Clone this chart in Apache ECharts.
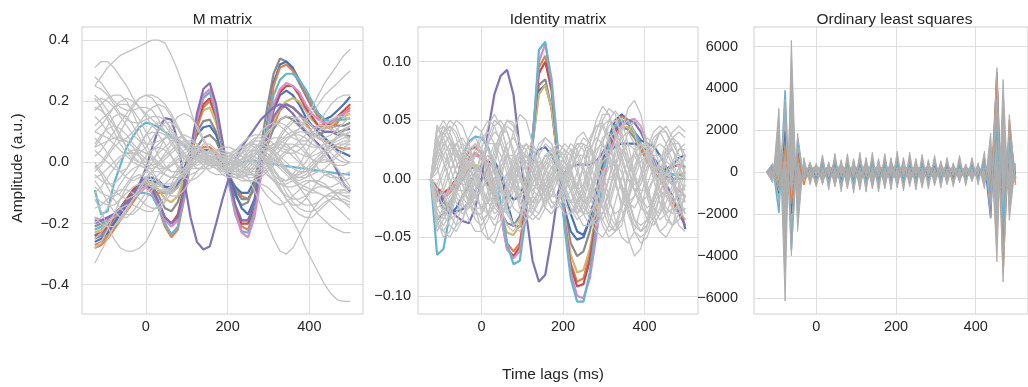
<!DOCTYPE html>
<html><head><meta charset="utf-8">
<script src="https://cdn.jsdelivr.net/npm/echarts@6.0.0/dist/echarts.min.js"></script>
<style>html,body{margin:0;padding:0;background:#fff}#c{width:1028px;height:387px}</style>
</head><body><div id="c"></div>
<script>
// ---- shared axis data ----
const lags = [-125,-109.375,-93.75,-78.125,-62.5,-46.875,-31.25,-15.625,0,15.625,31.25,46.875,62.5,78.125,93.75,109.375,125,140.625,156.25,171.875,187.5,203.125,218.75,234.375,250,265.625,281.25,296.875,312.5,328.125,343.75,359.375,375,390.625,406.25,421.875,437.5,453.125,468.75,484.375,500];
const xTicks = [0,200,400];
const mTicks = [-0.4,-0.2,0,0.2,0.4];
const iTicks = [-0.1,-0.05,0,0.05,0.1];
const oTicks = [-6000,-4000,-2000,0,2000,4000,6000];
const titles = ['M matrix','Identity matrix','Ordinary least squares'];

// ---- M matrix: highlighted channels ----
const mCyanB = [-0.22,-0.21,-0.19,-0.17,-0.15,-0.13,-0.11,-0.10,-0.10,-0.11,-0.15,-0.20,-0.235,-0.21,-0.11,0.02,0.14,0.21,0.23,0.16,0.05,-0.07,-0.17,-0.225,-0.23,-0.16,-0.03,0.11,0.22,0.27,0.29,0.29,0.27,0.24,0.20,0.16,0.14,0.135,0.14,0.14,0.145];
const mOrangeA = [-0.28,-0.27,-0.25,-0.22,-0.19,-0.16,-0.13,-0.10,-0.08,-0.10,-0.15,-0.21,-0.245,-0.22,-0.12,0.00,0.11,0.18,0.20,0.15,0.05,-0.06,-0.15,-0.21,-0.22,-0.16,-0.03,0.12,0.25,0.31,0.32,0.30,0.27,0.23,0.19,0.15,0.12,0.11,0.13,0.16,0.18];
const mRed = [-0.24,-0.23,-0.21,-0.18,-0.15,-0.12,-0.09,-0.07,-0.07,-0.09,-0.13,-0.18,-0.20,-0.17,-0.08,0.03,0.13,0.19,0.21,0.15,0.05,-0.06,-0.15,-0.20,-0.20,-0.15,-0.04,0.08,0.18,0.23,0.25,0.25,0.22,0.18,0.15,0.12,0.12,0.13,0.15,0.17,0.19];
const mPink = [-0.18,-0.19,-0.19,-0.18,-0.16,-0.13,-0.11,-0.09,-0.08,-0.10,-0.14,-0.19,-0.21,-0.19,-0.10,0.03,0.14,0.22,0.24,0.17,0.06,-0.06,-0.16,-0.23,-0.245,-0.18,-0.05,0.08,0.19,0.24,0.26,0.25,0.23,0.19,0.16,0.14,0.13,0.13,0.15,0.16,0.17];
const mYellow = [-0.23,-0.22,-0.20,-0.17,-0.15,-0.12,-0.09,-0.07,-0.06,-0.07,-0.09,-0.12,-0.13,-0.11,-0.05,0.04,0.12,0.17,0.18,0.13,0.04,-0.06,-0.14,-0.19,-0.19,-0.14,-0.04,0.06,0.14,0.18,0.20,0.21,0.20,0.17,0.14,0.12,0.11,0.12,0.14,0.15,0.16];
const mGreyA = [-0.25,-0.24,-0.22,-0.19,-0.16,-0.13,-0.10,-0.08,-0.07,-0.08,-0.11,-0.15,-0.16,-0.13,-0.06,0.03,0.10,0.135,0.14,0.10,0.03,-0.05,-0.11,-0.14,-0.13,-0.07,0.05,0.18,0.29,0.34,0.33,0.30,0.26,0.22,0.18,0.15,0.13,0.12,0.12,0.12,0.13];
const mGreyB = [-0.21,-0.20,-0.19,-0.17,-0.15,-0.13,-0.11,-0.09,-0.08,-0.08,-0.09,-0.10,-0.10,-0.08,-0.04,0.01,0.05,0.08,0.09,0.07,0.02,-0.04,-0.09,-0.12,-0.12,-0.08,-0.01,0.06,0.11,0.14,0.15,0.14,0.12,0.10,0.09,0.09,0.10,0.10,0.09,0.09,0.085];
const mBlueA = [-0.26,-0.25,-0.23,-0.20,-0.17,-0.14,-0.11,-0.08,-0.06,-0.06,-0.07,-0.08,-0.08,-0.06,-0.02,0.04,0.09,0.115,0.12,0.09,0.03,-0.04,-0.10,-0.15,-0.17,-0.12,-0.01,0.13,0.26,0.32,0.33,0.31,0.27,0.23,0.19,0.16,0.14,0.15,0.17,0.19,0.215];
const mBlueB = [-0.24,-0.23,-0.21,-0.18,-0.15,-0.12,-0.09,-0.07,-0.05,-0.05,-0.06,-0.08,-0.09,-0.07,-0.04,0.00,0.03,0.04,0.04,0.02,-0.01,-0.05,-0.08,-0.10,-0.10,-0.06,0.01,0.09,0.17,0.22,0.235,0.22,0.19,0.15,0.12,0.10,0.08,0.06,0.04,0.03,0.02];
const mPurpleA = [-0.20,-0.19,-0.18,-0.17,-0.15,-0.13,-0.10,-0.08,-0.07,-0.09,-0.13,-0.18,-0.20,-0.18,-0.09,0.04,0.16,0.24,0.26,0.19,0.07,-0.05,-0.14,-0.19,-0.19,-0.13,-0.02,0.08,0.15,0.18,0.19,0.18,0.16,0.14,0.12,0.11,0.10,0.10,0.10,0.105,0.11];
const mPurpleB = [-0.19,-0.19,-0.18,-0.17,-0.16,-0.14,-0.11,-0.07,-0.02,0.05,0.11,0.145,0.14,0.07,-0.06,-0.18,-0.26,-0.285,-0.275,-0.20,-0.12,-0.05,0.01,0.05,0.08,0.11,0.14,0.16,0.18,0.19,0.18,0.16,0.13,0.10,0.08,0.06,0.04,0.01,-0.03,-0.07,-0.095];
const mCyanA = [-0.09,-0.17,-0.16,-0.07,-0.01,0.05,0.085,0.115,0.13,0.125,0.115,0.10,0.085,0.07,0.055,0.04,0.03,0.02,0.01,0.00,0.00,-0.005,0.00,0.00,0.005,0.005,0.003,0.00,-0.005,-0.01,-0.012,-0.015,-0.018,-0.02,-0.024,-0.027,-0.03,-0.033,-0.036,-0.038,-0.04];
const mOrangeB = [-0.27,-0.26,-0.24,-0.21,-0.17,-0.14,-0.11,-0.09,-0.08,-0.09,-0.10,-0.10,-0.09,-0.07,-0.04,0.00,0.03,0.05,0.05,0.03,0.00,-0.04,-0.08,-0.11,-0.12,-0.09,-0.03,0.05,0.12,0.17,0.19,0.18,0.16,0.13,0.10,0.08,0.07,0.06,0.05,0.045,0.045];

// ---- M matrix: other channels (grey) ----
const mG1 = [0.25,0.28,0.31,0.33,0.35,0.36,0.37,0.38,0.39,0.40,0.40,0.39,0.35,0.30,0.24,0.17,0.11,0.07,0.04,0.02,0.01,0.0,-0.01,-0.01,0.0,0.02,0.04,0.05,0.06,0.06,0.05,0.04,0.03,0.02,0.02,0.03,0.04,0.05,0.06,0.06,0.07];
const mG2 = [0.31,0.33,0.33,0.31,0.28,0.25,0.21,0.18,0.16,0.14,0.12,0.10,0.07,0.04,0.02,0.01,0.01,0.02,0.03,0.03,0.02,0.0,-0.02,-0.04,-0.05,-0.05,-0.04,-0.02,0.0,0.02,0.04,0.05,0.06,0.06,0.05,0.05,0.06,0.07,0.08,0.09,0.10];
const mG3 = [-0.33,-0.29,-0.25,-0.21,-0.18,-0.15,-0.12,-0.10,-0.08,-0.06,-0.04,-0.02,0.0,0.02,0.04,0.05,0.05,0.04,0.03,0.02,0.02,0.03,0.04,0.05,0.06,0.06,0.05,0.03,0.01,-0.01,-0.03,-0.05,-0.07,-0.08,-0.09,-0.10,-0.11,-0.11,-0.12,-0.12,-0.13];
const mG4 = [0.05,0.06,0.07,0.08,0.08,0.07,0.05,0.03,0.01,-0.01,-0.02,-0.02,-0.01,0.0,0.02,0.03,0.03,0.02,0.01,0.0,-0.02,-0.04,-0.05,-0.06,-0.06,-0.06,-0.07,-0.08,-0.10,-0.12,-0.15,-0.19,-0.23,-0.28,-0.32,-0.36,-0.40,-0.43,-0.45,-0.455,-0.455];
const mG5 = [0.10,0.09,0.08,0.06,0.04,0.02,0.0,-0.01,-0.02,-0.02,-0.01,0.01,0.03,0.05,0.06,0.06,0.05,0.04,0.03,0.03,0.02,0.01,0.0,-0.02,-0.05,-0.09,-0.14,-0.20,-0.25,-0.29,-0.30,-0.28,-0.24,-0.20,-0.16,-0.13,-0.11,-0.10,-0.10,-0.11,-0.12];
const mG6 = [-0.05,-0.04,-0.02,0.0,0.02,0.03,0.04,0.04,0.03,0.02,0.0,-0.02,-0.03,-0.03,-0.02,0.0,0.02,0.03,0.03,0.02,0.0,-0.02,-0.03,-0.03,-0.01,0.02,0.05,0.07,0.08,0.08,0.08,0.09,0.11,0.14,0.18,0.22,0.26,0.29,0.32,0.35,0.37];
const mG7 = [0.20,0.21,0.20,0.18,0.15,0.12,0.09,0.07,0.06,0.06,0.07,0.08,0.08,0.06,0.03,0.0,-0.02,-0.02,-0.01,0.0,0.01,0.01,0.0,-0.01,-0.02,-0.02,-0.01,0.01,0.04,0.07,0.09,0.10,0.11,0.13,0.16,0.19,0.22,0.24,0.26,0.28,0.30];
const mG8 = [-0.12,-0.16,-0.21,-0.25,-0.28,-0.29,-0.29,-0.28,-0.26,-0.22,-0.17,-0.12,-0.08,-0.05,-0.03,-0.02,-0.02,-0.02,-0.02,-0.01,0.0,0.01,0.02,0.02,0.01,0.0,-0.02,-0.04,-0.06,-0.07,-0.08,-0.08,-0.07,-0.06,-0.06,-0.07,-0.08,-0.09,-0.10,-0.10,-0.10];
const mG9 = [0.15,0.13,0.10,0.08,0.07,0.08,0.10,0.13,0.16,0.18,0.19,0.18,0.15,0.11,0.07,0.04,0.02,0.01,0.0,-0.01,-0.01,0.0,0.02,0.04,0.06,0.07,0.07,0.06,0.04,0.02,0.0,-0.02,-0.03,-0.03,-0.02,0.0,0.02,0.04,0.05,0.06,0.06];
const mG10 = [-0.02,0.0,0.03,0.06,0.10,0.14,0.18,0.21,0.22,0.21,0.18,0.14,0.10,0.07,0.05,0.04,0.04,0.03,0.02,0.0,-0.02,-0.04,-0.05,-0.05,-0.04,-0.02,0.01,0.04,0.06,0.07,0.06,0.04,0.01,-0.02,-0.05,-0.07,-0.08,-0.08,-0.07,-0.06,-0.05];
const mG11 = [0.08,0.06,0.03,0.0,-0.03,-0.05,-0.06,-0.05,-0.03,0.0,0.04,0.08,0.12,0.15,0.16,0.15,0.12,0.08,0.04,0.01,-0.01,-0.02,-0.01,0.01,0.04,0.07,0.10,0.12,0.13,0.12,0.10,0.08,0.07,0.07,0.08,0.10,0.12,0.14,0.15,0.15,0.14];
const mG12 = [-0.15,-0.14,-0.12,-0.10,-0.09,-0.09,-0.10,-0.12,-0.14,-0.15,-0.15,-0.13,-0.10,-0.06,-0.03,-0.01,0.0,0.0,-0.01,-0.02,-0.03,-0.03,-0.02,0.0,0.02,0.03,0.03,0.01,-0.02,-0.05,-0.08,-0.11,-0.13,-0.14,-0.14,-0.13,-0.11,-0.10,-0.09,-0.09,-0.10];
const mG13 = [0.22,0.20,0.17,0.13,0.09,0.05,0.02,0.0,-0.01,-0.01,0.0,0.02,0.04,0.06,0.07,0.07,0.06,0.04,0.02,0.0,-0.02,-0.03,-0.03,-0.02,0.0,0.03,0.06,0.09,0.12,0.14,0.15,0.15,0.14,0.12,0.10,0.08,0.07,0.07,0.08,0.09,0.10];
const mG14 = [0.0,-0.03,-0.06,-0.09,-0.11,-0.12,-0.11,-0.09,-0.06,-0.03,0.0,0.03,0.06,0.08,0.09,0.08,0.06,0.03,0.0,-0.02,-0.03,-0.02,0.0,0.03,0.05,0.06,0.05,0.02,-0.02,-0.06,-0.10,-0.13,-0.15,-0.16,-0.16,-0.15,-0.13,-0.12,-0.12,-0.13,-0.14];
const mG15 = [0.12,0.14,0.16,0.18,0.19,0.19,0.17,0.14,0.10,0.06,0.02,-0.01,-0.03,-0.03,-0.02,0.0,0.02,0.03,0.03,0.02,0.01,0.0,0.0,0.01,0.03,0.05,0.06,0.05,0.03,0.0,-0.03,-0.05,-0.06,-0.05,-0.03,0.0,0.03,0.06,0.09,0.11,0.12];
const mG16 = [-0.08,-0.10,-0.11,-0.11,-0.10,-0.07,-0.04,-0.01,0.02,0.04,0.05,0.04,0.02,-0.01,-0.03,-0.04,-0.03,-0.01,0.01,0.02,0.02,0.01,-0.01,-0.03,-0.04,-0.04,-0.02,0.01,0.05,0.09,0.12,0.14,0.15,0.14,0.12,0.09,0.06,0.03,0.01,0.0,0.0];
const mG17 = [0.05,0.08,0.12,0.15,0.16,0.15,0.12,0.08,0.04,0.01,-0.02,-0.04,-0.05,-0.04,-0.02,0.01,0.04,0.06,0.06,0.04,0.01,-0.02,-0.04,-0.05,-0.04,-0.02,0.0,0.01,0.01,0.0,-0.02,-0.04,-0.05,-0.05,-0.04,-0.03,-0.03,-0.04,-0.06,-0.08,-0.09];
const mG18 = [-0.20,-0.18,-0.15,-0.11,-0.07,-0.04,-0.02,-0.01,-0.02,-0.04,-0.07,-0.09,-0.10,-0.08,-0.05,-0.02,0.01,0.03,0.04,0.04,0.03,0.02,0.01,0.01,0.02,0.04,0.07,0.10,0.12,0.13,0.12,0.10,0.07,0.04,0.01,-0.02,-0.04,-0.05,-0.05,-0.04,-0.03];
const mG19 = [0.18,0.17,0.15,0.12,0.08,0.05,0.03,0.03,0.05,0.08,0.11,0.13,0.13,0.11,0.08,0.05,0.03,0.02,0.02,0.02,0.01,-0.01,-0.03,-0.05,-0.06,-0.06,-0.05,-0.03,-0.01,0.01,0.03,0.05,0.07,0.09,0.11,0.12,0.12,0.11,0.10,0.09,0.08];
const mG20 = [-0.04,-0.06,-0.07,-0.07,-0.05,-0.02,0.02,0.06,0.09,0.10,0.09,0.06,0.02,-0.02,-0.05,-0.06,-0.05,-0.03,0.0,0.02,0.03,0.03,0.02,0.0,-0.02,-0.05,-0.08,-0.11,-0.13,-0.14,-0.13,-0.11,-0.09,-0.07,-0.06,-0.06,-0.07,-0.09,-0.11,-0.13,-0.15];
const mG21 = [0.25,0.24,0.22,0.19,0.16,0.14,0.13,0.13,0.14,0.15,0.15,0.14,0.11,0.08,0.05,0.03,0.02,0.02,0.03,0.04,0.04,0.03,0.01,-0.01,-0.03,-0.03,-0.02,0.0,0.03,0.06,0.08,0.09,0.09,0.08,0.06,0.05,0.05,0.06,0.08,0.10,0.12];
const mG22 = [-0.10,-0.08,-0.05,-0.02,0.01,0.03,0.03,0.02,0.0,-0.03,-0.06,-0.09,-0.11,-0.11,-0.09,-0.06,-0.03,-0.01,0.0,0.0,0.0,0.01,0.03,0.05,0.06,0.05,0.03,0.0,-0.04,-0.08,-0.12,-0.15,-0.17,-0.18,-0.18,-0.16,-0.14,-0.12,-0.10,-0.09,-0.08];
const mG23 = [0.02,0.04,0.07,0.10,0.13,0.16,0.19,0.21,0.22,0.22,0.21,0.19,0.16,0.12,0.08,0.05,0.02,0.0,-0.01,-0.01,0.0,0.02,0.04,0.06,0.08,0.09,0.09,0.08,0.06,0.04,0.03,0.03,0.04,0.06,0.09,0.12,0.16,0.19,0.21,0.22,0.22];
const mG24 = [-0.06,-0.09,-0.13,-0.16,-0.18,-0.18,-0.16,-0.13,-0.10,-0.08,-0.07,-0.07,-0.07,-0.06,-0.04,-0.02,0.0,0.01,0.01,0.0,-0.01,-0.02,-0.02,-0.01,0.01,0.03,0.04,0.04,0.03,0.01,-0.02,-0.05,-0.08,-0.11,-0.14,-0.17,-0.19,-0.21,-0.22,-0.23,-0.23];
const mG25 = [0.10,0.12,0.15,0.18,0.20,0.21,0.20,0.18,0.15,0.12,0.10,0.09,0.08,0.07,0.05,0.03,0.01,0.0,0.0,0.01,0.02,0.02,0.01,-0.01,-0.03,-0.04,-0.04,-0.02,0.01,0.04,0.07,0.09,0.10,0.10,0.09,0.08,0.08,0.09,0.11,0.13,0.15];
const mG26 = [-0.25,-0.23,-0.20,-0.17,-0.15,-0.14,-0.14,-0.15,-0.16,-0.16,-0.14,-0.11,-0.07,-0.03,0.0,0.02,0.03,0.02,0.0,-0.02,-0.04,-0.05,-0.05,-0.04,-0.02,0.0,0.01,0.01,0.0,-0.02,-0.04,-0.06,-0.08,-0.09,-0.10,-0.10,-0.11,-0.13,-0.15,-0.17,-0.19];
const mG27 = [0.04,0.02,0.0,-0.02,-0.03,-0.02,0.01,0.05,0.09,0.12,0.13,0.12,0.09,0.05,0.02,0.0,-0.01,0.0,0.02,0.04,0.05,0.05,0.04,0.02,0.0,-0.01,-0.01,0.01,0.04,0.08,0.11,0.13,0.13,0.11,0.08,0.05,0.02,0.0,-0.01,-0.01,0.0];
const mG28 = [-0.18,-0.20,-0.21,-0.21,-0.19,-0.16,-0.12,-0.08,-0.05,-0.03,-0.03,-0.04,-0.05,-0.05,-0.03,-0.01,0.01,0.02,0.02,0.01,-0.01,-0.03,-0.04,-0.04,-0.03,-0.01,0.02,0.04,0.05,0.05,0.04,0.02,0.0,-0.02,-0.03,-0.03,-0.02,0.0,0.02,0.04,0.05];
const mG29 = [0.28,0.26,0.23,0.20,0.18,0.17,0.17,0.18,0.18,0.17,0.14,0.10,0.06,0.03,0.01,0.0,0.0,0.01,0.02,0.02,0.01,0.0,-0.02,-0.03,-0.04,-0.04,-0.03,-0.01,0.02,0.04,0.06,0.06,0.05,0.03,0.01,0.0,0.0,0.01,0.03,0.05,0.06];
const mG30 = [-0.01,-0.04,-0.08,-0.12,-0.15,-0.17,-0.17,-0.15,-0.12,-0.09,-0.06,-0.03,-0.01,0.01,0.02,0.02,0.01,-0.01,-0.03,-0.04,-0.04,-0.03,-0.01,0.01,0.02,0.02,0.0,-0.03,-0.06,-0.09,-0.11,-0.12,-0.12,-0.11,-0.09,-0.08,-0.08,-0.09,-0.10,-0.11,-0.11];
const mG31 = [0.17,0.19,0.21,0.22,0.22,0.20,0.16,0.11,0.06,0.02,-0.01,-0.02,-0.01,0.01,0.03,0.04,0.04,0.03,0.01,-0.01,-0.02,-0.02,-0.01,0.01,0.03,0.04,0.03,0.0,-0.03,-0.05,-0.06,-0.05,-0.03,0.0,0.03,0.05,0.06,0.05,0.03,0.01,0.0];
const mG32 = [-0.28,-0.26,-0.22,-0.17,-0.12,-0.08,-0.05,-0.04,-0.05,-0.07,-0.08,-0.07,-0.05,-0.02,0.01,0.03,0.04,0.03,0.01,-0.01,-0.02,-0.02,0.0,0.03,0.06,0.08,0.08,0.06,0.03,0.0,-0.03,-0.05,-0.05,-0.04,-0.02,0.0,0.01,0.0,-0.02,-0.05,-0.08];
const mG33 = [0.06,0.09,0.11,0.12,0.11,0.09,0.06,0.04,0.03,0.04,0.06,0.08,0.09,0.08,0.06,0.04,0.02,0.01,0.0,0.0,0.01,0.02,0.03,0.03,0.02,0.0,-0.02,-0.04,-0.06,-0.07,-0.07,-0.06,-0.04,-0.02,0.0,0.02,0.04,0.06,0.07,0.08,0.08];
const mG34 = [-0.11,-0.13,-0.14,-0.14,-0.12,-0.10,-0.08,-0.07,-0.07,-0.08,-0.09,-0.09,-0.08,-0.06,-0.03,0.0,0.02,0.03,0.02,0.0,-0.02,-0.04,-0.04,-0.03,-0.01,0.01,0.02,0.02,0.01,-0.01,-0.03,-0.04,-0.04,-0.03,-0.01,0.01,0.03,0.05,0.06,0.07,0.07];
const mG35 = [0.21,0.18,0.14,0.10,0.06,0.03,0.01,0.0,0.0,0.01,0.03,0.05,0.07,0.08,0.08,0.06,0.04,0.01,-0.01,-0.02,-0.02,-0.01,0.01,0.03,0.04,0.04,0.02,-0.01,-0.04,-0.06,-0.06,-0.04,-0.01,0.03,0.07,0.10,0.12,0.12,0.11,0.09,0.07];
const mG36 = [-0.03,-0.01,0.02,0.05,0.07,0.07,0.05,0.02,-0.02,-0.06,-0.09,-0.10,-0.09,-0.06,-0.03,0.0,0.02,0.02,0.01,-0.01,-0.03,-0.03,-0.02,0.0,0.02,0.03,0.02,-0.01,-0.05,-0.09,-0.12,-0.14,-0.14,-0.12,-0.09,-0.06,-0.04,-0.04,-0.05,-0.07,-0.09];

// ---- Identity matrix: highlighted channels ----
const iCyan = [0,-0.065,-0.060,-0.030,-0.005,0.020,0.032,0.036,0.035,0.027,0.010,-0.020,-0.055,-0.073,-0.070,-0.030,0.030,0.110,0.117,0.080,0.020,-0.040,-0.085,-0.105,-0.105,-0.080,-0.040,0.000,0.030,0.045,0.050,0.048,0.040,0.030,0.020,0.012,0.008,0.006,0.004,0.003,0.002];
const iPink = [0,-0.010,-0.015,-0.010,-0.005,0.005,0.015,0.020,0.018,0.010,-0.005,-0.030,-0.060,-0.068,-0.062,-0.025,0.035,0.100,0.115,0.085,0.025,-0.035,-0.080,-0.100,-0.102,-0.085,-0.050,-0.010,0.020,0.035,0.045,0.050,0.051,0.045,0.030,0.015,0.005,0.000,-0.005,-0.010,-0.015];
const iRed = [0,-0.008,-0.012,-0.008,0.000,0.012,0.024,0.027,0.022,0.012,-0.005,-0.030,-0.060,-0.066,-0.058,-0.020,0.035,0.090,0.100,0.075,0.020,-0.035,-0.075,-0.092,-0.090,-0.070,-0.035,0.000,0.025,0.040,0.048,0.047,0.040,0.030,0.020,0.012,0.008,0.008,0.010,0.012,0.010];
const iOrange = [0,-0.012,-0.016,-0.012,-0.004,0.008,0.018,0.022,0.018,0.008,-0.008,-0.030,-0.055,-0.062,-0.055,-0.020,0.035,0.095,0.105,0.078,0.020,-0.035,-0.072,-0.088,-0.085,-0.065,-0.030,0.005,0.030,0.045,0.053,0.050,0.040,0.028,0.016,0.006,0.000,-0.010,-0.020,-0.030,-0.035];
const iYellow = [0,-0.010,-0.012,-0.010,-0.004,0.004,0.010,0.012,0.008,0.000,-0.012,-0.030,-0.046,-0.048,-0.040,-0.010,0.030,0.072,0.080,0.060,0.015,-0.030,-0.065,-0.080,-0.078,-0.060,-0.030,0.000,0.025,0.038,0.045,0.044,0.038,0.028,0.018,0.010,0.006,0.004,0.003,0.004,0.005];
const iGrey = [0,-0.035,-0.030,-0.020,-0.010,0.000,0.008,0.010,0.005,-0.005,-0.015,-0.028,-0.038,-0.040,-0.032,-0.005,0.035,0.080,0.085,0.060,0.015,-0.025,-0.055,-0.066,-0.062,-0.045,-0.020,0.005,0.025,0.038,0.044,0.042,0.035,0.025,0.015,0.008,0.005,0.002,0.000,0.000,0.000];
const iBlue = [0,-0.012,-0.020,-0.026,-0.028,-0.026,-0.020,-0.010,0.000,0.010,0.015,0.005,-0.020,-0.040,-0.041,-0.015,0.030,0.075,0.080,0.060,0.015,-0.025,-0.045,-0.052,-0.050,-0.035,-0.010,0.015,0.035,0.050,0.055,0.050,0.040,0.033,0.030,0.028,0.020,0.010,0.000,-0.020,-0.043];
const iBlue2 = [0,-0.015,-0.025,-0.030,-0.025,-0.015,-0.005,0.005,0.012,0.015,0.012,0.003,-0.010,-0.018,-0.015,0.000,0.015,0.025,0.027,0.020,0.008,-0.010,-0.030,-0.045,-0.048,-0.035,-0.010,0.010,0.022,0.028,0.030,0.030,0.030,0.028,0.024,0.018,0.010,0.008,0.012,0.018,0.020];
const iPurple = [0,-0.010,-0.018,-0.025,-0.032,-0.036,-0.038,-0.025,0.000,0.040,0.072,0.088,0.093,0.072,0.025,-0.030,-0.070,-0.088,-0.082,-0.050,-0.012,0.005,0.010,0.012,0.012,0.012,0.015,0.022,0.032,0.042,0.048,0.050,0.048,0.040,0.028,0.015,0.005,-0.005,-0.015,-0.030,-0.040];

// ---- Identity matrix: other channels (grey) ----
const iG1 = [0,0.046,0.030,0.010,-0.005,0.005,0.020,0.030,0.025,0.010,-0.010,-0.025,-0.030,-0.020,0.000,0.015,0.020,0.010,-0.005,-0.020,-0.025,-0.015,0.005,0.025,0.035,0.030,0.015,-0.005,-0.020,-0.030,-0.025,-0.010,0.010,0.025,0.030,0.020,0.005,-0.010,-0.020,-0.015,-0.005];
const iG2 = [0,-0.030,-0.040,-0.030,-0.010,0.010,0.025,0.030,0.020,0.000,-0.020,-0.030,-0.025,-0.010,0.010,0.020,0.015,0.000,-0.015,-0.025,-0.020,-0.005,0.015,0.030,0.030,0.015,-0.005,-0.025,-0.040,-0.045,-0.035,-0.015,0.005,0.020,0.025,0.015,0.000,-0.015,-0.025,-0.025,-0.015];
const iG3 = [0,0.035,0.040,0.030,0.015,0.000,-0.010,-0.005,0.010,0.030,0.045,0.050,0.040,0.020,0.000,-0.015,-0.020,-0.010,0.005,0.015,0.015,0.005,-0.010,-0.020,-0.015,0.005,0.030,0.050,0.060,0.055,0.035,0.010,-0.010,-0.020,-0.015,0.000,0.015,0.025,0.025,0.015,0.005];
const iG4 = [0,-0.020,-0.005,0.015,0.030,0.035,0.025,0.005,-0.015,-0.030,-0.035,-0.025,-0.005,0.015,0.025,0.020,0.005,-0.010,-0.020,-0.015,0.000,0.015,0.025,0.020,0.005,-0.015,-0.030,-0.035,-0.025,-0.005,0.020,0.040,0.050,0.045,0.025,0.000,-0.020,-0.030,-0.025,-0.010,0.005];
const iG5 = [0,0.020,0.035,0.045,0.040,0.025,0.005,-0.015,-0.025,-0.020,-0.005,0.015,0.030,0.035,0.025,0.005,-0.010,-0.015,-0.010,0.000,0.010,0.010,0.000,-0.015,-0.030,-0.040,-0.035,-0.020,0.000,0.020,0.035,0.040,0.030,0.010,-0.015,-0.035,-0.045,-0.040,-0.025,-0.005,0.010];
const iG6 = [0,-0.040,-0.045,-0.035,-0.015,0.005,0.015,0.010,-0.005,-0.020,-0.030,-0.025,-0.010,0.010,0.020,0.015,0.005,-0.005,-0.010,-0.005,0.005,0.010,0.005,-0.005,-0.020,-0.035,-0.045,-0.050,-0.040,-0.020,0.000,0.015,0.020,0.010,-0.010,-0.030,-0.045,-0.050,-0.040,-0.020,0.000];
const iG7 = [0,0.010,0.025,0.040,0.050,0.045,0.030,0.010,-0.010,-0.020,-0.015,0.000,0.020,0.040,0.055,0.050,0.030,0.005,-0.015,-0.025,-0.020,-0.005,0.010,0.015,0.010,-0.005,-0.020,-0.025,-0.015,0.010,0.040,0.060,0.067,0.055,0.030,0.005,-0.010,-0.015,-0.010,0.005,0.020];
const iG8 = [0,-0.015,-0.030,-0.040,-0.045,-0.035,-0.015,0.005,0.020,0.025,0.015,-0.005,-0.025,-0.040,-0.045,-0.035,-0.015,0.005,0.015,0.010,-0.005,-0.020,-0.030,-0.025,-0.010,0.010,0.025,0.030,0.020,0.000,-0.025,-0.050,-0.066,-0.060,-0.040,-0.015,0.005,0.015,0.010,-0.005,-0.020];
const iG9 = [0,0.025,0.015,0.000,-0.015,-0.025,-0.020,0.000,0.025,0.045,0.055,0.045,0.025,0.000,-0.020,-0.030,-0.025,-0.010,0.010,0.025,0.030,0.025,0.010,-0.010,-0.025,-0.030,-0.020,0.000,0.020,0.030,0.025,0.010,-0.010,-0.025,-0.030,-0.020,0.000,0.020,0.035,0.040,0.035];
const iG10 = [0,-0.005,0.010,0.025,0.030,0.020,0.000,-0.025,-0.045,-0.052,-0.045,-0.025,0.000,0.020,0.030,0.025,0.010,-0.005,-0.015,-0.010,0.005,0.020,0.030,0.025,0.010,-0.010,-0.025,-0.030,-0.020,0.000,0.020,0.030,0.025,0.010,-0.010,-0.025,-0.030,-0.020,-0.005,0.010,0.020];
const iG11 = [0,0.040,0.045,0.035,0.020,0.010,0.010,0.020,0.035,0.040,0.030,0.010,-0.010,-0.025,-0.030,-0.020,-0.005,0.010,0.020,0.015,0.000,-0.015,-0.020,-0.010,0.010,0.030,0.045,0.048,0.035,0.015,-0.005,-0.020,-0.025,-0.015,0.005,0.025,0.040,0.045,0.035,0.020,0.005];
const iG12 = [0,-0.025,-0.020,-0.005,0.010,0.020,0.015,-0.005,-0.030,-0.050,-0.055,-0.040,-0.015,0.010,0.025,0.030,0.020,0.005,-0.010,-0.020,-0.020,-0.010,0.005,0.020,0.030,0.025,0.010,-0.010,-0.030,-0.040,-0.035,-0.020,0.000,0.015,0.020,0.010,-0.010,-0.030,-0.040,-0.035,-0.025];
const iG13 = [0,0.015,0.030,0.035,0.025,0.005,-0.015,-0.030,-0.030,-0.015,0.010,0.035,0.050,0.048,0.030,0.005,-0.015,-0.020,-0.010,0.005,0.015,0.015,0.005,-0.010,-0.020,-0.015,0.005,0.030,0.050,0.058,0.050,0.030,0.005,-0.015,-0.025,-0.020,-0.005,0.015,0.030,0.030,0.020];
const iG14 = [0,-0.035,-0.025,-0.010,0.000,-0.005,-0.020,-0.035,-0.040,-0.030,-0.010,0.010,0.020,0.015,0.000,-0.015,-0.020,-0.010,0.005,0.020,0.025,0.020,0.005,-0.010,-0.020,-0.020,-0.010,0.005,0.015,0.010,-0.005,-0.025,-0.045,-0.055,-0.050,-0.035,-0.015,0.005,0.015,0.010,0.000];
const iG15 = [0,0.030,0.020,0.010,0.010,0.020,0.035,0.045,0.040,0.025,0.005,-0.010,-0.015,-0.005,0.010,0.025,0.030,0.020,0.005,-0.010,-0.020,-0.020,-0.010,0.005,0.020,0.035,0.045,0.045,0.030,0.010,-0.010,-0.020,-0.015,0.000,0.020,0.035,0.040,0.030,0.015,0.000,-0.010];
const iG16 = [0,-0.010,-0.025,-0.035,-0.030,-0.015,0.005,0.020,0.025,0.015,-0.005,-0.025,-0.040,-0.045,-0.035,-0.015,0.005,0.015,0.010,-0.005,-0.020,-0.030,-0.030,-0.020,-0.005,0.010,0.015,0.005,-0.015,-0.035,-0.050,-0.055,-0.045,-0.025,-0.005,0.010,0.010,-0.005,-0.025,-0.040,-0.045];
const iG17 = [0,0.045,0.035,0.020,0.005,-0.005,-0.005,0.005,0.020,0.030,0.030,0.020,0.005,-0.010,-0.015,-0.005,0.010,0.025,0.035,0.030,0.015,0.000,-0.010,-0.005,0.010,0.030,0.050,0.062,0.055,0.035,0.015,0.000,-0.005,0.000,0.015,0.030,0.040,0.040,0.030,0.020,0.010];
const iG18 = [0,-0.030,-0.045,-0.050,-0.040,-0.020,0.000,0.010,0.005,-0.010,-0.025,-0.030,-0.020,0.000,0.020,0.030,0.025,0.010,-0.005,-0.015,-0.015,-0.005,0.010,0.020,0.020,0.005,-0.015,-0.035,-0.045,-0.040,-0.020,0.005,0.025,0.030,0.020,0.000,-0.020,-0.035,-0.040,-0.030,-0.015];
const iG19 = [0,0.005,0.020,0.030,0.025,0.010,-0.010,-0.025,-0.025,-0.010,0.015,0.035,0.045,0.040,0.020,-0.005,-0.025,-0.030,-0.020,0.000,0.020,0.030,0.025,0.010,-0.010,-0.025,-0.030,-0.020,0.000,0.025,0.045,0.050,0.040,0.020,-0.005,-0.025,-0.035,-0.030,-0.015,0.005,0.020];
const iG20 = [0,-0.020,-0.010,0.005,0.020,0.030,0.025,0.010,-0.010,-0.030,-0.040,-0.035,-0.020,0.000,0.015,0.020,0.010,-0.010,-0.025,-0.030,-0.020,0.000,0.020,0.035,0.040,0.030,0.010,-0.015,-0.035,-0.045,-0.040,-0.020,0.005,0.025,0.035,0.030,0.010,-0.010,-0.025,-0.030,-0.025];
const iG21 = [0,0.025,0.040,0.050,0.045,0.030,0.010,-0.005,-0.010,0.000,0.020,0.040,0.050,0.045,0.030,0.010,-0.005,-0.010,-0.005,0.005,0.010,0.005,-0.010,-0.025,-0.030,-0.020,0.000,0.020,0.035,0.040,0.030,0.015,0.000,-0.010,-0.010,0.000,0.015,0.030,0.040,0.045,0.040];
const iG22 = [0,-0.045,-0.035,-0.020,-0.010,-0.010,-0.020,-0.030,-0.030,-0.020,0.000,0.015,0.020,0.010,-0.010,-0.025,-0.030,-0.020,-0.005,0.010,0.015,0.010,-0.005,-0.020,-0.030,-0.030,-0.020,-0.005,0.010,0.015,0.005,-0.015,-0.035,-0.045,-0.040,-0.025,-0.010,0.000,-0.005,-0.020,-0.030];
const iG23 = [0,0.035,0.015,-0.005,-0.020,-0.030,-0.025,-0.010,0.010,0.030,0.040,0.035,0.020,0.005,-0.010,-0.015,-0.005,0.010,0.020,0.020,0.010,-0.005,-0.020,-0.030,-0.025,-0.010,0.010,0.030,0.045,0.050,0.040,0.020,0.000,-0.020,-0.035,-0.040,-0.030,-0.010,0.010,0.025,0.030];
const iG24 = [0,-0.025,-0.035,-0.025,-0.005,0.015,0.030,0.035,0.025,0.005,-0.015,-0.025,-0.020,-0.005,0.010,0.015,0.005,-0.010,-0.025,-0.030,-0.020,0.000,0.020,0.030,0.025,0.005,-0.020,-0.040,-0.050,-0.045,-0.025,0.000,0.020,0.030,0.025,0.010,-0.010,-0.025,-0.030,-0.020,-0.005];
const iG25 = [0,0.010,-0.010,-0.030,-0.040,-0.035,-0.020,0.000,0.015,0.020,0.010,-0.010,-0.030,-0.040,-0.035,-0.020,0.000,0.020,0.030,0.025,0.010,-0.010,-0.025,-0.030,-0.020,0.000,0.020,0.035,0.040,0.030,0.010,-0.015,-0.035,-0.045,-0.040,-0.020,0.005,0.025,0.035,0.030,0.015];
const iG26 = [0,0.040,0.050,0.040,0.025,0.015,0.015,0.025,0.040,0.050,0.045,0.030,0.010,-0.005,-0.010,0.000,0.015,0.030,0.035,0.030,0.015,0.000,-0.010,-0.005,0.010,0.025,0.035,0.030,0.015,-0.005,-0.020,-0.025,-0.015,0.005,0.025,0.040,0.045,0.040,0.025,0.010,0.000];
const iG27 = [0,-0.040,-0.030,-0.015,-0.010,-0.020,-0.035,-0.045,-0.045,-0.035,-0.020,-0.005,0.005,0.000,-0.015,-0.030,-0.035,-0.030,-0.015,0.000,0.010,0.005,-0.010,-0.030,-0.040,-0.040,-0.030,-0.015,0.000,0.005,-0.005,-0.020,-0.035,-0.040,-0.035,-0.020,-0.005,0.005,0.000,-0.015,-0.030];
const iG28 = [0,0.020,0.040,0.045,0.035,0.015,-0.005,-0.015,-0.010,0.005,0.025,0.040,0.040,0.025,0.005,-0.010,-0.010,0.000,0.015,0.025,0.025,0.015,0.000,-0.010,-0.005,0.010,0.030,0.045,0.050,0.040,0.020,0.000,-0.010,-0.005,0.010,0.025,0.030,0.025,0.010,-0.005,-0.015];
const iG29 = [0,-0.010,0.005,0.020,0.025,0.015,-0.005,-0.025,-0.035,-0.030,-0.015,0.005,0.020,0.020,0.005,-0.015,-0.030,-0.035,-0.025,-0.005,0.015,0.025,0.020,0.005,-0.015,-0.030,-0.040,-0.030,-0.010,0.010,0.025,0.020,0.005,-0.015,-0.030,-0.035,-0.025,-0.005,0.015,0.025,0.025];
const iG30 = [0,0.030,0.045,0.035,0.015,-0.005,-0.020,-0.020,-0.005,0.015,0.030,0.030,0.015,-0.005,-0.025,-0.035,-0.030,-0.015,0.000,0.010,0.005,-0.010,-0.025,-0.035,-0.030,-0.015,0.005,0.020,0.025,0.015,-0.005,-0.025,-0.040,-0.045,-0.035,-0.015,0.005,0.020,0.025,0.015,0.005];
const iG31 = [0,-0.035,-0.050,-0.045,-0.030,-0.015,-0.010,-0.015,-0.025,-0.030,-0.025,-0.010,0.005,0.010,0.005,-0.010,-0.020,-0.020,-0.010,0.005,0.015,0.015,0.005,-0.010,-0.020,-0.015,0.000,0.015,0.020,0.010,-0.010,-0.030,-0.045,-0.050,-0.045,-0.030,-0.015,-0.010,-0.015,-0.025,-0.035];
const iG32 = [0,0.015,0.030,0.025,0.005,-0.015,-0.025,-0.015,0.010,0.035,0.050,0.045,0.025,0.000,-0.020,-0.025,-0.015,0.005,0.020,0.025,0.015,-0.005,-0.020,-0.020,-0.005,0.020,0.040,0.055,0.055,0.040,0.020,0.000,-0.010,-0.005,0.010,0.020,0.020,0.010,-0.005,-0.015,-0.020];

// ---- Ordinary least squares ----
const oCyan = [0,350,-1950,3920,-3700,1500,-300,300,-400,400,-450,500,-500,450,-500,500,-500,450,-450,400,-400,450,-400,450,-400,400,-400,400,-350,430,-500,400,-350,300,-300,400,-900,2000,-2500,1500,-300];
const oOrange = [0,200,-600,1200,-1500,800,-600,400,-600,500,-500,620,-600,500,-550,600,-500,550,-500,500,-450,550,-500,500,-450,480,-400,450,-400,420,-350,400,-300,350,-300,500,-1000,4500,-4800,2500,-610];
const oBlue = [0,250,-1000,2000,-2000,1000,-300,300,-350,400,-400,450,-450,450,-450,450,-450,450,-400,400,-400,450,-400,400,-400,400,-350,350,-350,350,-300,350,-300,300,-300,600,-2200,4800,-4000,2000,-300];
const oGA = [0,430,-1500,3500,-4000,1860,-400,500,-700,830,-850,900,-930,880,-1000,950,-950,950,-950,900,-850,1000,-900,950,-850,850,-800,800,-750,700,-700,800,-650,700,-600,1000,-2200,4990,-5250,2750,-610];
const oGB = [0,-510,3050,-6160,6300,-2830,700,-600,430,-600,500,-700,600,-800,650,-850,700,-800,650,-800,700,-750,700,-700,650,-750,600,-650,550,-600,450,-500,400,-450,450,-800,1870,-4290,4430,-2300,430];
const oGC = [0,300,-900,2500,-2500,1200,-250,350,-500,600,-600,650,-700,600,-700,650,-700,700,-650,650,-600,700,-650,650,-600,600,-550,550,-500,500,-450,550,-450,500,-400,700,-1500,3500,-3800,1900,-400];
const oGD = [0,-300,2000,-3500,4500,-1800,450,-400,300,-450,350,-500,450,-550,450,-600,500,-550,450,-550,500,-500,500,-500,450,-500,400,-450,350,-400,300,-350,300,-300,300,-500,1200,-3000,3000,-1500,300];
const oGE = [0,150,600,300,900,400,250,150,300,120,280,150,320,130,300,160,330,150,300,140,320,160,300,150,280,140,300,130,260,120,240,110,220,100,200,150,500,300,900,400,150];
const oGF = [0,-200,-400,-700,-500,-600,-200,-250,-120,-300,-150,-320,-140,-300,-160,-330,-150,-310,-140,-300,-160,-320,-150,-300,-140,-280,-130,-260,-120,-250,-110,-230,-100,-220,-120,-200,-600,-500,-800,-400,-200];

// ---- rendering ----
const FONT = "'Liberation Sans', Arial, sans-serif";
const TXT = '#262626';
const C = {blue:'#4C72B0', orange:'#DD8452', red:'#C44E52', purple:'#8172B3', pink:'#DA8BC3', grey:'#8C8C8C', yellow:'#CCB974', cyan:'#64B5CD'};
const GREY = '#c2c2c2';

function pts(arr){ return arr.map((v,i)=>[lags[i], v]); }
function ln(arr, idx, color, width, area){
  const s = {type:'line', xAxisIndex:idx, yAxisIndex:idx, data:pts(arr), symbol:'none', silent:true,
    lineStyle:{color:color, width:width}, itemStyle:{color:color}, animation:false};
  if (area) s.areaStyle = {color:color, opacity:1};
  return s;
}
function fmt(dec){ return v => (v < 0 ? '\u2212' : '') + Math.abs(v).toFixed(dec); }

const grids = [
  {left:82, top:27, width:281, height:287},
  {left:418, top:27, width:280, height:287},
  {left:754, top:27, width:281, height:287}
];
const yCfg = [
  {min:-0.496, max:0.443, ticks:mTicks, f:fmt(1), margin:13},
  {min:-0.1155, max:0.1296, ticks:iTicks, f:fmt(2), margin:7},
  {min:-6776, max:6938, ticks:oTicks, f:fmt(0), margin:16}
];

const series = [];
// M matrix
[[mOrangeB,C.orange],[mCyanA,C.cyan],[mBlueB,C.blue],[mGreyB,C.grey],[mGreyA,C.grey],[mBlueA,C.blue],[mYellow,C.yellow],[mOrangeA,C.orange],[mRed,C.red],[mCyanB,C.cyan],[mPink,C.pink],[mPurpleA,C.purple],[mPurpleB,C.purple]]
  .forEach(p => series.push(ln(p[0], 0, p[1], 2.2)));
[mG1,mG2,mG3,mG4,mG5,mG6,mG7,mG8,mG9,mG10,mG11,mG12,mG13,mG14,mG15,mG16,mG17,mG18,mG19,mG20,mG21,mG22,mG23,mG24,mG25,mG26,mG27,mG28,mG29,mG30,mG31,mG32,mG33,mG34,mG35,mG36]
  .forEach(a => series.push(ln(a, 0, GREY, 1.3)));
// Identity matrix
[[iBlue2,C.blue],[iGrey,C.grey],[iBlue,C.blue],[iYellow,C.yellow],[iOrange,C.orange],[iRed,C.red],[iPink,C.pink],[iCyan,C.cyan],[iPurple,C.purple]]
  .forEach(p => series.push(ln(p[0], 1, p[1], 2.2)));
[iG1,iG2,iG3,iG4,iG5,iG6,iG7,iG8,iG9,iG10,iG11,iG12,iG13,iG14,iG15,iG16,iG17,iG18,iG19,iG20,iG21,iG22,iG23,iG24,iG25,iG26,iG27,iG28,iG29,iG30,iG31,iG32]
  .forEach(a => series.push(ln(a, 1, GREY, 1.3)));
// OLS
[[oBlue,C.blue],[oOrange,C.orange],[oCyan,C.cyan]].forEach(p => series.push(ln(p[0], 2, p[1], 1.6)));
[oGA,oGB,oGC,oGD,oGE,oGF].forEach(a => series.push(ln(a, 2, '#adadad', 1, true)));

const option = {
  animation:false,
  backgroundColor:'#ffffff',
  title: titles.map((t,i) => ({text:t, left:grids[i].left + grids[i].width/2, top:12, textAlign:'center', padding:0,
    textStyle:{fontSize:15.5, fontWeight:'normal', color:TXT, fontFamily:FONT}})),
  grid: grids.map(g => Object.assign({show:true, borderColor:'#cfcfcf', borderWidth:1, containLabel:false}, g)),
  xAxis: grids.map((g,i) => ({type:'value', gridIndex:i, min:-156.25, max:531.25,
    axisLine:{show:false}, axisTick:{show:false, customValues:xTicks},
    axisLabel:{customValues:xTicks, fontSize:14.5, color:TXT, fontFamily:FONT, margin:5},
    splitLine:{show:true, lineStyle:{color:'#dedede', width:1}}})),
  yAxis: yCfg.map((c,i) => ({type:'value', gridIndex:i, min:c.min, max:c.max,
    axisLine:{show:false}, axisTick:{show:false, customValues:c.ticks},
    axisLabel:{customValues:c.ticks, formatter:c.f, fontSize:14.5, color:TXT, fontFamily:FONT, margin:c.margin},
    splitLine:{show:true, lineStyle:{color:'#dedede', width:1}}})),
  graphic: [
    {type:'text', x:18, y:168, rotation:Math.PI/2, style:{text:'Amplitude (a.u.)', fontSize:15.5, fontFamily:FONT, fill:TXT, align:'center', verticalAlign:'middle'}},
    {type:'text', x:553, y:375, style:{text:'Time lags (ms)', fontSize:15.5, fontFamily:FONT, fill:TXT, align:'center', verticalAlign:'middle'}}
  ],
  series: series
};
const chart = echarts.init(document.getElementById('c'), null, {renderer:'canvas'});
chart.setOption(option);
</script>
</body></html>
